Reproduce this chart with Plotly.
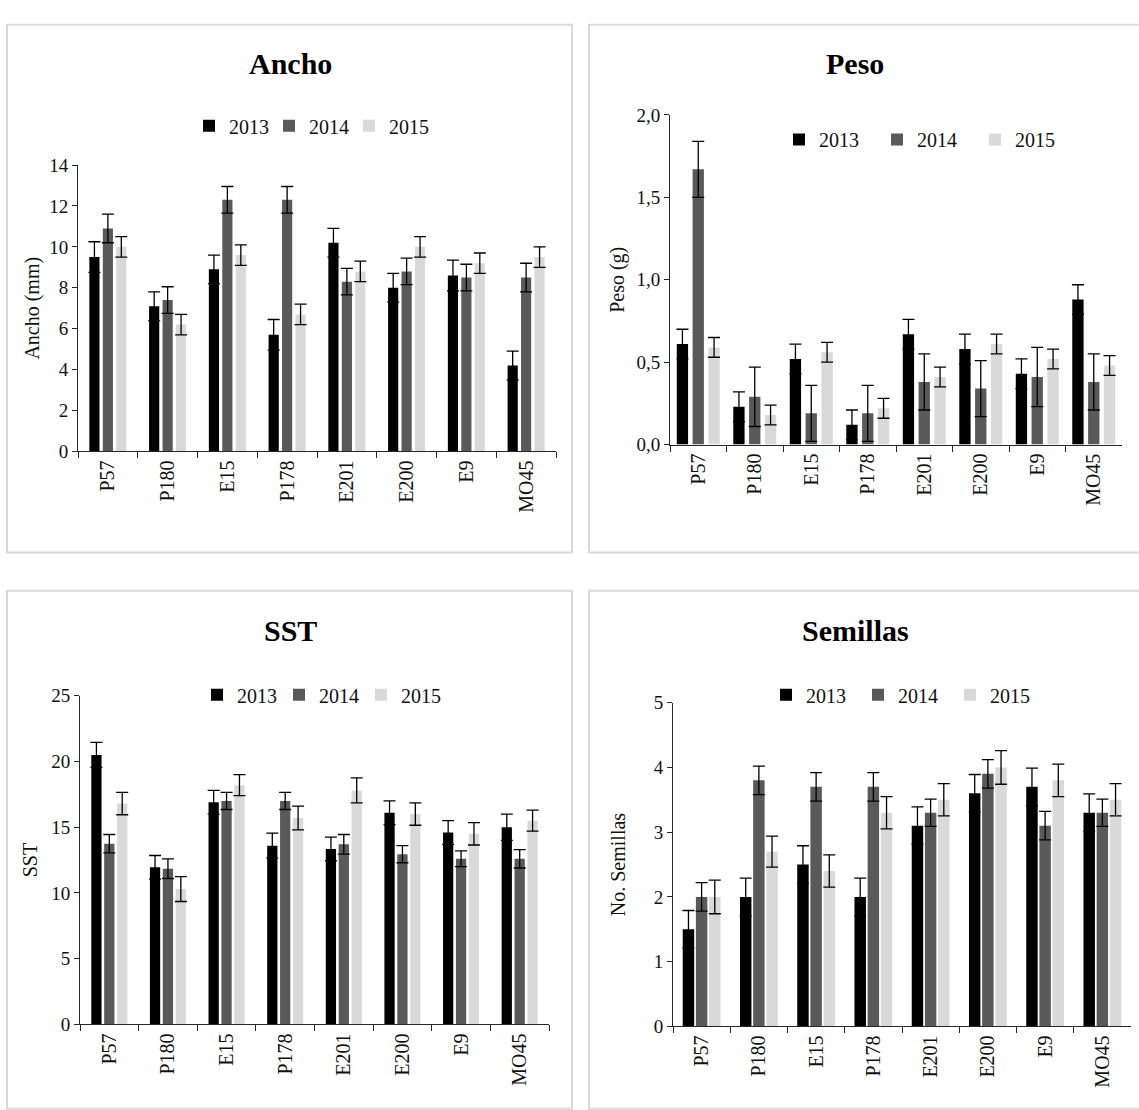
import plotly.graph_objects as go

categories = ["P57", "P180", "E15", "P178", "E201", "E200", "E9", "MO45"]
years = ["2013", "2014", "2015"]
colors = ["#000000", "#595959", "#d9d9d9"]

ancho_2013 = [9.5, 7.1, 8.9, 5.7, 10.2, 8.0, 8.6, 4.2]
ancho_2014 = [10.9, 7.4, 12.3, 12.3, 8.3, 8.8, 8.5, 8.5]
ancho_2015 = [10.0, 6.2, 9.6, 6.7, 8.8, 10.0, 9.2, 9.5]
ancho_err_2013 = [0.75, 0.7, 0.7, 0.75, 0.7, 0.7, 0.75, 0.7]
ancho_err_2014 = [0.7, 0.65, 0.65, 0.65, 0.65, 0.65, 0.65, 0.7]
ancho_err_2015 = [0.5, 0.5, 0.5, 0.5, 0.5, 0.5, 0.5, 0.5]

peso_2013 = [0.61, 0.23, 0.52, 0.12, 0.67, 0.58, 0.43, 0.88]
peso_2014 = [1.67, 0.29, 0.19, 0.19, 0.38, 0.34, 0.41, 0.38]
peso_2015 = [0.59, 0.18, 0.56, 0.22, 0.41, 0.61, 0.52, 0.48]
peso_err_2013 = [0.09, 0.09, 0.09, 0.09, 0.09, 0.09, 0.09, 0.09]
peso_err_2014 = [0.17, 0.18, 0.17, 0.17, 0.17, 0.17, 0.18, 0.17]
peso_err_2015 = [0.06, 0.06, 0.06, 0.06, 0.06, 0.06, 0.06, 0.06]

sst_2013 = [20.5, 11.95, 16.9, 13.6, 13.35, 16.1, 14.6, 15.0]
sst_2014 = [13.75, 11.85, 17.0, 17.0, 13.7, 12.95, 12.6, 12.6]
sst_2015 = [16.8, 10.3, 18.2, 15.7, 17.8, 16.0, 14.5, 15.5]
sst_err_2013 = [0.95, 0.9, 0.9, 0.95, 0.9, 0.9, 0.9, 1.0]
sst_err_2014 = [0.7, 0.75, 0.65, 0.65, 0.75, 0.65, 0.6, 0.7]
sst_err_2015 = [0.85, 0.95, 0.8, 0.9, 0.95, 0.85, 0.85, 0.8]

sem_2013 = [1.5, 2.0, 2.5, 2.0, 3.1, 3.6, 3.7, 3.3]
sem_2014 = [2.0, 3.8, 3.7, 3.7, 3.3, 3.9, 3.1, 3.3]
sem_2015 = [2.0, 2.7, 2.4, 3.3, 3.5, 4.0, 3.8, 3.5]
sem_err_2013 = [0.29, 0.29, 0.29, 0.29, 0.29, 0.29, 0.29, 0.29]
sem_err_2014 = [0.22, 0.22, 0.22, 0.22, 0.21, 0.22, 0.22, 0.21]
sem_err_2015 = [0.26, 0.24, 0.25, 0.25, 0.25, 0.26, 0.25, 0.25]

panels = [
    dict(title="Ancho", ytitle="Ancho (mm)", vals=[ancho_2013, ancho_2014, ancho_2015],
         errs=[ancho_err_2013, ancho_err_2014, ancho_err_2015], yrange=[0, 14], dtick=2, fmt="d"),
    dict(title="Peso", ytitle="Peso (g)", vals=[peso_2013, peso_2014, peso_2015],
         errs=[peso_err_2013, peso_err_2014, peso_err_2015], yrange=[0, 2], dtick=0.5, fmt=".1f"),
    dict(title="SST", ytitle="SST", vals=[sst_2013, sst_2014, sst_2015],
         errs=[sst_err_2013, sst_err_2014, sst_err_2015], yrange=[0, 25], dtick=5, fmt="d"),
    dict(title="Semillas", ytitle="No. Semillas", vals=[sem_2013, sem_2014, sem_2015],
         errs=[sem_err_2013, sem_err_2014, sem_err_2015], yrange=[0, 5], dtick=1, fmt="d"),
]

W, H = 1139, 1110
def px(x): return x / W
def py(y): return 1 - y / H

# ---- layout / style settings (pixels) ----
areas = [(78, 556, 158, 450), (670, 1122, 107, 443), (80, 549, 699, 1034), (673, 1131, 706, 1036)]
title_pos = [(290, 55), (855, 55), (290, 632), (855, 632)]
legend_left = [189, 779, 197, 766]
legend_y = [118, 132, 698, 698]
legend_entry = [35, 53, 37, 47]
bar_style = [(0.17, 0.055), (0.20, 0.08), (0.175, 0.045), (0.20, 0.03)]  # bar width, gap (category units)
ytitle_standoff = [4, 6, 8, 22]

FONT = "Liberation Serif"
TXT = "#111111"
AX = "#262626"
fig = go.Figure()
layout = dict(
    width=W, height=H, margin=dict(l=0, r=0, t=0, b=0),
    paper_bgcolor="white", plot_bgcolor="white",
    barmode="group",
    separators=", ",
    font=dict(family=FONT, size=19, color=TXT),
    annotations=[], shapes=[],
)

for i, p in enumerate(panels):
    n = i + 1
    xa = "x" if n == 1 else f"x{n}"
    ya = "y" if n == 1 else f"y{n}"
    lg = "legend" if n == 1 else f"legend{n}"
    bw, gap = bar_style[i]
    offsets = [-1.5 * bw - gap, -0.5 * bw, 0.5 * bw + gap]
    for k in range(3):
        fig.add_trace(go.Bar(
            x=categories, y=p["vals"][k], name=years[k],
            width=bw, offset=offsets[k],
            marker=dict(color=colors[k], line=dict(width=0)),
            error_y=dict(type="data", array=p["errs"][k], color="#000000", thickness=1.3, width=6),
            xaxis=xa, yaxis=ya, legend=lg, showlegend=True,
        ))
    l, r, t, b = areas[i]
    layout["xaxis" if n == 1 else f"xaxis{n}"] = dict(
        domain=[px(l), px(r)], anchor=ya, tickangle=-90, range=[-0.5, 7.5],
        ticks="outside", tickson="boundaries", ticklen=6, tickcolor=AX, tickwidth=1,
        showline=True, linecolor=AX, linewidth=1, showgrid=False,
        tickfont=dict(family=FONT, size=20, color=TXT), fixedrange=True,
    )
    layout["yaxis" if n == 1 else f"yaxis{n}"] = dict(
        domain=[py(b), py(t)], anchor=xa, range=p["yrange"], dtick=p["dtick"],
        tickformat=p["fmt"], ticks="outside", ticklen=5, tickcolor=AX, tickwidth=1,
        showline=True, linecolor=AX, linewidth=1, showgrid=False, zeroline=False,
        tickfont=dict(family=FONT, size=19, color=TXT),
        title=dict(text=p["ytitle"], font=dict(family=FONT, size=20, color=TXT),
                   standoff=ytitle_standoff[i]),
    )
    tx, ty = title_pos[i]
    layout["annotations"].append(dict(
        text=f"<b>{p['title']}</b>", x=px(tx), y=py(ty), xref="paper", yref="paper",
        xanchor="center", yanchor="middle", showarrow=False,
        font=dict(family=FONT, size=30, color="#000000"),
    ))
    layout[lg] = dict(
        orientation="h", x=px(legend_left[i]), y=py(legend_y[i]), xanchor="left", yanchor="middle",
        font=dict(family=FONT, size=20, color=TXT), bgcolor="rgba(0,0,0,0)",
        itemwidth=30, entrywidth=legend_entry[i], entrywidthmode="pixels",
        itemclick=False, itemdoubleclick=False, traceorder="normal",
    )

# panel frames
for (x0, y0, x1, y1) in [(7, 15, 572, 553), (589, 15, 1150, 553), (7, 592, 572, 1120), (589, 592, 1150, 1120)]:
    layout["shapes"].append(dict(
        type="rect", xref="paper", yref="paper", x0=px(x0), x1=px(x1), y0=py(y1), y1=py(y0),
        line=dict(color="#d9d9d9", width=2), fillcolor="rgba(0,0,0,0)", layer="below",
    ))

fig.update_layout(**layout)
fig.write_html("out.html")
